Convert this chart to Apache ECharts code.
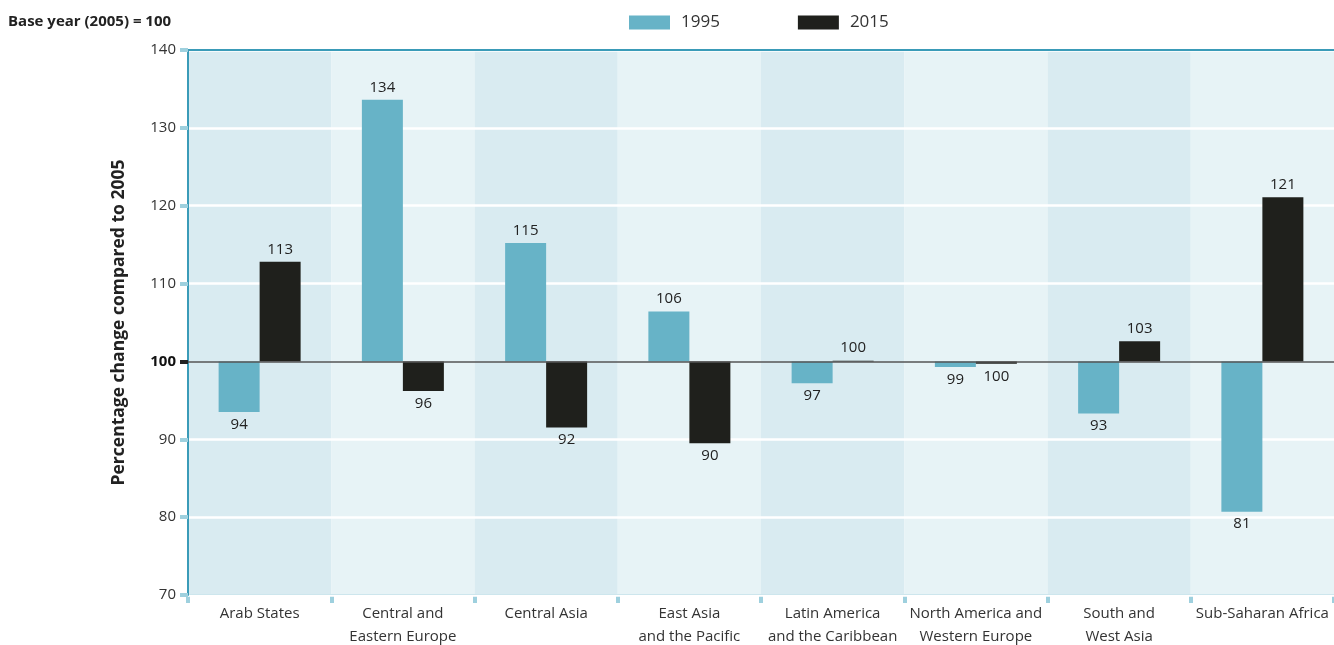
<!DOCTYPE html>
<html>
<head>
<meta charset="utf-8">
<title>Base year (2005) = 100</title>
<script src="https://cdn.jsdelivr.net/npm/echarts@6/dist/echarts.min.js"></script>
<style>
  html, body { margin: 0; padding: 0; background: #fff; }
  #main { width: 1334px; height: 645px; }
</style>
</head>
<body>
<div id="main"></div>
<script>
// regions on the x axis
var categories = [
  'Arab States',
  'Central and\nEastern Europe',
  'Central Asia',
  'East Asia\nand the Pacific',
  'Latin America\nand the Caribbean',
  'North America and\nWestern Europe',
  'South and\nWest Asia',
  'Sub-Saharan Africa'
];
// index values, base year 2005 = 100
var values1995 = [93.5, 133.6, 115.2, 106.4, 97.2, 99.3, 93.3, 80.7];
var values2015 = [112.8, 96.2, 91.5, 89.5, 100.1, 99.7, 102.6, 121.1];
var baseValue = 100;
var yTicks = [70, 80, 90, 100, 110, 120, 130, 140];

var FONT = '"Open Sans", "Noto Sans", sans-serif';

// bars hang from the 100 line, so plot the offset and label the real value
function toItems(arr) {
  return arr.map(function (v) {
    return {
      value: v - baseValue,
      label: { position: v >= baseValue ? 'top' : 'bottom' }
    };
  });
}

var labelStyle = {
  show: true,
  distance: 5,
  color: '#222',
  fontSize: 15,
  fontFamily: FONT,
  formatter: function (p) { return Math.round(p.value + baseValue); }
};

var yMin = yTicks[0] - baseValue;
var yMax = yTicks[yTicks.length - 1] - baseValue;

var myChart = echarts.init(document.getElementById('main'));
var option = {
  animation: false,
  textStyle: { fontFamily: FONT },
  title: {
    text: 'Base year (2005) = 100',
    left: 3,
    top: 9,
    textStyle: { fontSize: 15, fontWeight: 'bold', color: '#222', fontFamily: FONT }
  },
  legend: {
    left: 624,
    top: 9,
    itemWidth: 41,
    itemHeight: 14,
    itemGap: 78,
    icon: 'rect',
    selectedMode: false,
    textStyle: { fontSize: 17, color: '#333', fontFamily: FONT, padding: [0, 0, 0, 6] },
    data: ['1995', '2015']
  },
  grid: { left: 188, right: 0, top: 50, bottom: 50, outerBoundsMode: 'none' },
  xAxis: [
    {
      type: 'category',
      data: categories,
      position: 'bottom',
      z: 0,
      axisLine: { show: true, onZero: false, lineStyle: { color: '#3a9bb8', width: 2 } },
      axisTick: { show: true, interval: 0, length: 8, lineStyle: { color: '#9ed0de', width: 4 } },
      axisLabel: { interval: 0, color: '#333', fontSize: 15, lineHeight: 23, margin: 7, fontFamily: FONT },
      splitArea: { show: true, interval: 0, areaStyle: { color: ['#d9ebf1', '#e7f3f6'] } },
      splitLine: { show: false }
    },
    {
      type: 'category',
      data: categories,
      position: 'top',
      z: 1,
      axisLine: { show: true, onZero: false, lineStyle: { color: '#3a9bb8', width: 2 } },
      axisTick: { show: false },
      axisLabel: { show: false }
    }
  ],
  yAxis: [
    {
      type: 'value',
      position: 'left',
      z: 1,
      min: yMin,
      max: yMax,
      interval: 10,
      name: 'Percentage change compared to 2005',
      nameLocation: 'middle',
      nameGap: 60,
      nameTextStyle: { fontSize: 17.5, fontWeight: 'bold', color: '#222', fontFamily: FONT },
      axisLine: { show: true, lineStyle: { color: '#3a9bb8', width: 2 } },
      axisTick: {
        show: true,
        length: 8,
        customValues: yTicks.filter(function (t) { return t !== baseValue; })
          .map(function (t) { return t - baseValue; }),
        lineStyle: { color: '#9ed0de', width: 4 }
      },
      axisLabel: {
        color: '#333',
        fontSize: 15,
        margin: 12,
        fontFamily: FONT,
        formatter: function (v) {
          return v === 0 ? '{b|' + (v + baseValue) + '}' : String(v + baseValue);
        },
        rich: { b: { fontWeight: 'bold', color: '#111', fontSize: 15, fontFamily: FONT } }
      },
      splitLine: { show: true, lineStyle: { color: '#ffffff', width: 2.5 } }
    },
    {
      type: 'value',
      position: 'left',
      offset: 0,
      z: 1,
      min: yMin,
      max: yMax,
      interval: 10,
      axisLine: { show: false },
      axisTick: { show: true, length: 8, customValues: [0], lineStyle: { color: '#222', width: 4 } },
      axisLabel: { show: false },
      splitLine: { show: false }
    }
  ],
  series: [
    {
      name: '1995',
      type: 'bar',
      barWidth: 41,
      barGap: '0%',
      itemStyle: { color: '#67b3c7' },
      label: labelStyle,
      data: toItems(values1995),
      markLine: {
        silent: true,
        symbol: 'none',
        label: { show: false },
        lineStyle: { color: '#555', width: 1.5, type: 'solid' },
        data: [{ yAxis: 0 }]
      }
    },
    {
      name: '2015',
      type: 'bar',
      barWidth: 41,
      itemStyle: { color: '#1f201c' },
      label: labelStyle,
      data: toItems(values2015)
    }
  ]
};
myChart.setOption(option);
</script>
</body>
</html>
